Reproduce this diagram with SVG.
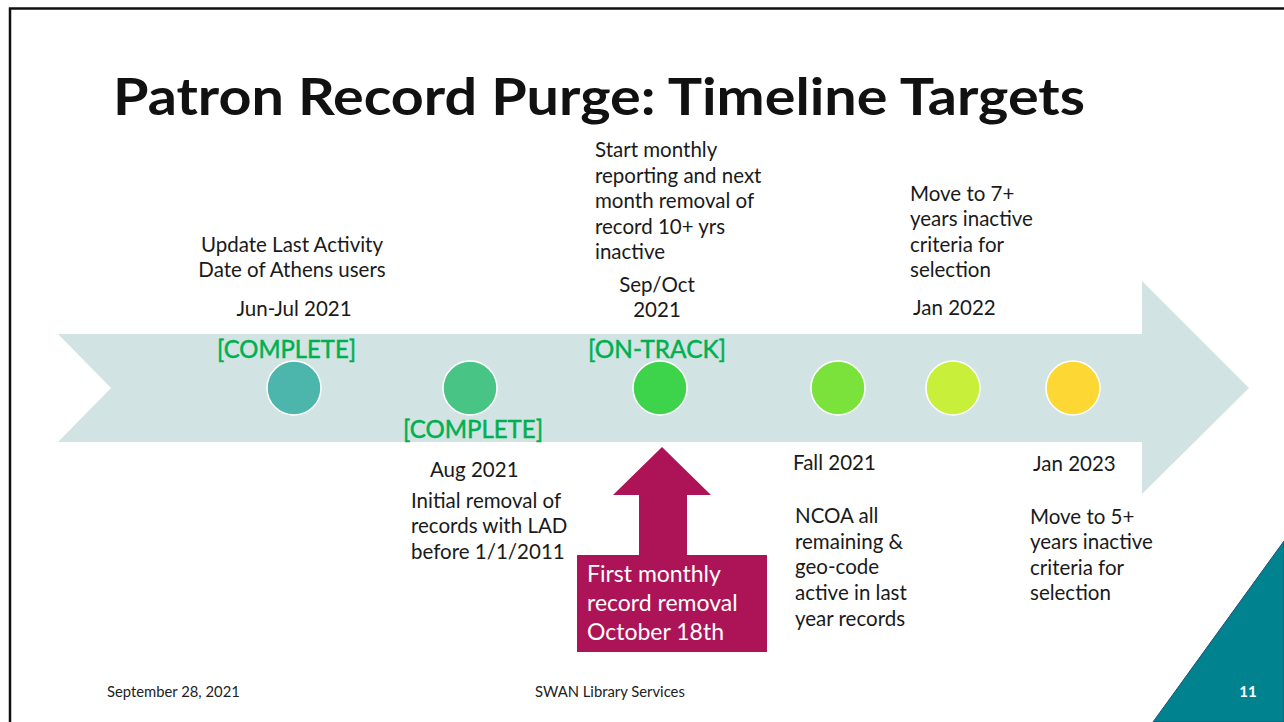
<svg xmlns="http://www.w3.org/2000/svg" width="1284" height="722" viewBox="0 0 1284 722">
<style>
.t{font-family:Lato,"Source Sans Pro","Liberation Sans",sans-serif;font-size:20.5px;fill:#1a1a1a}
.g{font-family:Lato,"Liberation Sans",sans-serif;font-size:25px;fill:#00B050;stroke:#00B050;stroke-width:0.5}
.w{font-family:Lato,"Liberation Sans",sans-serif;font-size:23px;fill:#ffffff}
.f{font-family:Lato,"Liberation Sans",sans-serif;font-size:14.8px;fill:#222}
.dot{stroke:#ffffff;stroke-width:1.5}
</style>
<rect width="1284" height="722" fill="#ffffff"/>
<path d="M10,722 V8.5 H1284" fill="none" stroke="#111" stroke-width="2.5"/>
<polygon points="1284,541 1284,722 1153,722" fill="#00838F" stroke="#1f4e79" stroke-width="1"/>
<text x="113" y="115" font-family="Lato,'Liberation Sans',sans-serif" font-weight="bold" font-size="52" fill="#111" textLength="972" lengthAdjust="spacingAndGlyphs">Patron Record Purge: Timeline Targets</text>
<g id="timeline-arrow">
<polygon points="58,334 1142,334 1142,281 1249,388 1142,494 1142,442 58,442 111,388" fill="#D1E4E3"/>
</g>
<g id="connectors">
<polygon points="662,447 711,495 687,495 687,556 639,556 639,495 613,495" fill="#AD1457"/>
</g>
<g id="m1">
<circle class="dot" cx="294" cy="388" r="27" fill="#4DB6AC"/>
<text class="t" x="292" y="252" text-anchor="middle">Update Last Activity</text>
<text class="t" x="292" y="277" text-anchor="middle">Date of Athens users</text>
<text class="t" x="294" y="316" text-anchor="middle">Jun-Jul 2021</text>
<text class="g" x="217" y="358" textLength="139" lengthAdjust="spacingAndGlyphs">[COMPLETE]</text>
</g>
<g id="m2">
<circle class="dot" cx="470" cy="388" r="27" fill="#48C585"/>
<text class="g" x="403" y="438" textLength="140" lengthAdjust="spacingAndGlyphs">[COMPLETE]</text>
<text class="t" x="430" y="477">Aug 2021</text>
<text class="t" x="411" y="508">Initial removal of</text>
<text class="t" x="411" y="533">records with LAD</text>
<text class="t" x="411" y="559">before 1/1/2011</text>
</g>
<g id="m3">
<circle class="dot" cx="660" cy="388" r="27" fill="#3DD44C"/>
<text class="t" x="595" y="157">Start monthly</text>
<text class="t" x="595" y="183">reporting and next</text>
<text class="t" x="595" y="208">month removal of</text>
<text class="t" x="595" y="234">record 10+ yrs</text>
<text class="t" x="595" y="259">inactive</text>
<text class="t" x="657" y="292" text-anchor="middle">Sep/Oct</text>
<text class="t" x="657" y="317" text-anchor="middle">2021</text>
<text class="g" x="588" y="358" textLength="138" lengthAdjust="spacingAndGlyphs">[ON-TRACK]</text>
</g>
<g id="m4">
<circle class="dot" cx="838" cy="388" r="27" fill="#7AE23A"/>
<text class="t" x="793" y="470">Fall 2021</text>
<text class="t" x="795" y="523">NCOA all</text>
<text class="t" x="795" y="549">remaining &amp;</text>
<text class="t" x="795" y="574">geo-code</text>
<text class="t" x="795" y="600">active in last</text>
<text class="t" x="795" y="626">year records</text>
</g>
<g id="m5">
<circle class="dot" cx="953" cy="388" r="27" fill="#C8F03A"/>
<text class="t" x="910" y="201">Move to 7+</text>
<text class="t" x="910" y="226">years inactive</text>
<text class="t" x="910" y="252">criteria for</text>
<text class="t" x="910" y="277">selection</text>
<text class="t" x="913" y="315">Jan 2022</text>
</g>
<g id="m6">
<circle class="dot" cx="1073" cy="388" r="27" fill="#FDD835"/>
<text class="t" x="1033" y="471">Jan 2023</text>
<text class="t" x="1030" y="524">Move to 5+</text>
<text class="t" x="1030" y="549">years inactive</text>
<text class="t" x="1030" y="575">criteria for</text>
<text class="t" x="1030" y="600">selection</text>
</g>
<g id="callout">
<rect x="577" y="555" width="190" height="97" fill="#AD1457"/>
<text class="w" x="587" y="582">First monthly</text>
<text class="w" x="587" y="611">record removal</text>
<text class="w" x="587" y="640">October 18th</text>
</g>
<g id="footer">
<text class="f" x="107" y="697">September 28, 2021</text>
<text class="f" x="535" y="697">SWAN Library Services</text>
<text x="1248" y="697" text-anchor="middle" font-family="Lato,'Liberation Sans',sans-serif" font-weight="bold" font-size="15" fill="#ffffff">11</text>
</g>
</svg>
